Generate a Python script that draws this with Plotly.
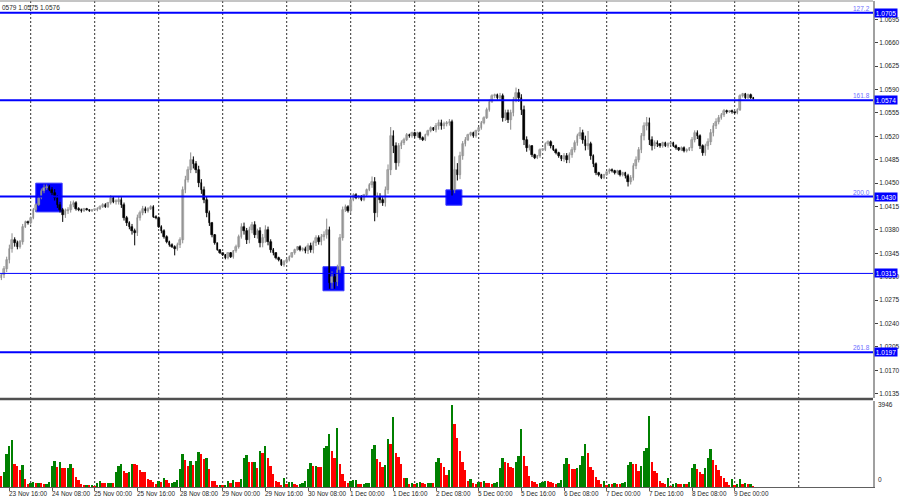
import plotly.graph_objects as go

# ---------------- data (EURUSD H1) ----------------
days = ['23 Nov', '24 Nov', '25 Nov', '28 Nov', '29 Nov', '30 Nov', '1 Dec',
        '2 Dec', '5 Dec', '6 Dec', '7 Dec', '8 Dec', '9 Dec']
first_bar = 13          # trading-hour index of first bar (23 Nov 13:00)
first_open = 1.0308

close_23 = [1.0312, 1.0322, 1.0335, 1.0352, 1.0365, 1.0360, 1.0355, 1.0362, 1.0385, 1.0392, 1.0390]
close_24 = [1.0398, 1.0410, 1.0418, 1.0428, 1.0438, 1.0443, 1.0445, 1.0440, 1.0436, 1.0428, 1.0418, 1.0410,
            1.0402, 1.0408, 1.0410, 1.0418, 1.0420, 1.0412, 1.0410, 1.0408, 1.0412, 1.0410, 1.0408, 1.0410]
close_25 = [1.0410, 1.0412, 1.0415, 1.0418, 1.0415, 1.0420, 1.0428, 1.0422, 1.0422, 1.0425, 1.0418, 1.0398,
            1.0390, 1.0385, 1.0378, 1.0375, 1.0398, 1.0405, 1.0412, 1.0408, 1.0412, 1.0415, 1.0400, 1.0398]
close_28 = [1.0385, 1.0378, 1.0370, 1.0362, 1.0358, 1.0355, 1.0352, 1.0358, 1.0365, 1.0440, 1.0455, 1.0470,
            1.0485, 1.0478, 1.0470, 1.0450, 1.0440, 1.0425, 1.0405, 1.0390, 1.0372, 1.0360, 1.0350, 1.0345]
close_29 = [1.0342, 1.0338, 1.0345, 1.0340, 1.0348, 1.0355, 1.0370, 1.0385, 1.0378, 1.0365, 1.0380, 1.0388,
            1.0372, 1.0378, 1.0360, 1.0368, 1.0380, 1.0362, 1.0350, 1.0345, 1.0338, 1.0335, 1.0328, 1.0332]
close_30 = [1.0335, 1.0340, 1.0345, 1.0350, 1.0355, 1.0350, 1.0352, 1.0348, 1.0356, 1.0350, 1.0360, 1.0368,
            1.0362, 1.0370, 1.0372, 1.0380, 1.0300, 1.0310, 1.0302, 1.0320, 1.0368, 1.0410, 1.0415, 1.0408]
close_01 = [1.0425, 1.0432, 1.0428, 1.0430, 1.0425, 1.0432, 1.0440, 1.0448, 1.0452, 1.0405, 1.0430, 1.0425,
            1.0420, 1.0440, 1.0470, 1.0520, 1.0505, 1.0480, 1.0505, 1.0510, 1.0515, 1.0522, 1.0520, 1.0525]
close_02 = [1.0520, 1.0525, 1.0518, 1.0515, 1.0522, 1.0528, 1.0532, 1.0530, 1.0535, 1.0540, 1.0535, 1.0538,
            1.0540, 1.0542, 1.0440, 1.0470, 1.0462, 1.0490, 1.0508, 1.0515, 1.0522, 1.0525, 1.0520, 1.0528]
close_05 = [1.0532, 1.0540, 1.0548, 1.0560, 1.0572, 1.0580, 1.0582, 1.0578, 1.0580, 1.0548, 1.0555, 1.0545,
            1.0555, 1.0575, 1.0585, 1.0578, 1.0560, 1.0515, 1.0502, 1.0505, 1.0492, 1.0488, 1.0490, 1.0500]
close_06 = [1.0500, 1.0508, 1.0512, 1.0505, 1.0500, 1.0495, 1.0490, 1.0486, 1.0490, 1.0485, 1.0492, 1.0500,
            1.0510, 1.0520, 1.0525, 1.0515, 1.0505, 1.0508, 1.0490, 1.0478, 1.0465, 1.0462, 1.0458, 1.0462]
close_07 = [1.0466, 1.0470, 1.0468, 1.0465, 1.0468, 1.0462, 1.0465, 1.0460, 1.0452, 1.0458, 1.0475, 1.0485,
            1.0500, 1.0520, 1.0535, 1.0540, 1.0515, 1.0505, 1.0510, 1.0508, 1.0505, 1.0510, 1.0506, 1.0508]
close_08 = [1.0510, 1.0506, 1.0502, 1.0500, 1.0503, 1.0498, 1.0500, 1.0502, 1.0515, 1.0525, 1.0520, 1.0505,
            1.0495, 1.0505, 1.0512, 1.0525, 1.0535, 1.0542, 1.0548, 1.0552, 1.0558, 1.0556, 1.0558, 1.0556]
close_09 = [1.0555, 1.0560, 1.0580, 1.0583, 1.0578, 1.0582, 1.0578, 1.0576]

# upper / lower wick lengths in pips
wu_23 = [3, 4, 5, 6, 10, 4, 4, 3, 4, 2, 2]
wl_23 = [3, 4, 5, 5, 6, 5, 4, 3, 4, 2, 2]
wu_24 = [2, 3, 2, 3, 4, 5, 3, 2, 4, 5, 4, 4, 3, 4, 4, 5, 4, 3, 2, 2, 1, 1, 1, 1]
wl_24 = [2, 2, 3, 2, 2, 3, 3, 2, 4, 4, 5, 4, 10, 4, 4, 4, 4, 3, 2, 2, 1, 1, 1, 1]
wu_25 = [1, 2, 2, 2, 2, 2, 4, 2, 4, 5, 4, 3, 3, 3, 4, 4, 5, 4, 4, 3, 2, 2, 2, 2]
wl_25 = [1, 2, 2, 2, 2, 2, 2, 2, 4, 4, 5, 4, 4, 4, 5, 18, 4, 4, 3, 3, 2, 2, 2, 2]
wu_28 = [2, 2, 3, 2, 2, 2, 2, 3, 4, 5, 6, 5, 11, 5, 5, 6, 6, 5, 5, 4, 2, 2, 1, 1]
wl_28 = [2, 3, 3, 2, 3, 2, 10, 3, 5, 5, 5, 4, 5, 6, 5, 6, 6, 5, 6, 4, 3, 2, 1, 1]
wu_29 = [1, 2, 2, 2, 2, 3, 3, 5, 6, 5, 5, 4, 5, 4, 6, 6, 7, 5, 4, 3, 2, 2, 1, 3]
wl_29 = [1, 2, 2, 2, 3, 2, 3, 3, 5, 6, 5, 5, 4, 5, 6, 6, 7, 5, 4, 3, 2, 2, 2, 3]
wu_30 = [2, 2, 2, 2, 1, 2, 2, 3, 4, 5, 4, 4, 4, 4, 6, 17, 5, 8, 5, 8, 6, 5, 3, 2]
wl_30 = [2, 2, 2, 2, 1, 2, 2, 3, 4, 4, 5, 4, 4, 5, 6, 5, 8, 8, 10, 6, 5, 4, 3, 2]
wu_01 = [2, 3, 3, 2, 2, 2, 2, 2, 8, 7, 6, 5, 4, 5, 8, 14, 9, 6, 5, 4, 3, 3, 2, 2]
wl_01 = [3, 2, 2, 2, 2, 2, 2, 2, 5, 12, 6, 5, 4, 5, 6, 8, 10, 10, 5, 4, 3, 2, 2, 2]
wu_02 = [2, 2, 2, 2, 2, 2, 3, 2, 5, 5, 5, 4, 3, 4, 3, 20, 10, 7, 5, 4, 2, 2, 2, 2]
wl_02 = [2, 2, 3, 2, 2, 2, 2, 2, 4, 5, 5, 4, 3, 4, 10, 5, 8, 6, 5, 3, 2, 2, 2, 2]
wu_05 = [2, 3, 2, 3, 3, 3, 2, 2, 5, 4, 5, 5, 5, 4, 8, 6, 5, 6, 5, 3, 2, 2, 2, 2]
wl_05 = [2, 2, 2, 2, 3, 2, 3, 3, 4, 6, 5, 5, 15, 5, 4, 6, 8, 8, 5, 3, 3, 2, 2, 2]
wu_06 = [2, 3, 2, 2, 2, 2, 2, 2, 5, 5, 4, 4, 4, 4, 9, 5, 6, 20, 4, 3, 3, 2, 2, 2]
wl_06 = [2, 2, 2, 3, 2, 2, 2, 3, 4, 5, 5, 4, 4, 4, 4, 6, 6, 5, 5, 4, 3, 2, 2, 2]
wu_07 = [1, 2, 2, 2, 2, 2, 2, 2, 4, 4, 5, 5, 4, 5, 6, 9, 8, 5, 4, 4, 2, 2, 2, 3]
wl_07 = [1, 2, 2, 2, 2, 2, 2, 3, 7, 4, 4, 4, 4, 5, 6, 6, 8, 6, 4, 4, 2, 2, 2, 3]
wu_08 = [1, 2, 2, 2, 2, 2, 2, 2, 4, 4, 4, 3, 3, 4, 5, 6, 5, 5, 4, 3, 3, 2, 1, 2]
wl_08 = [1, 2, 2, 2, 2, 2, 2, 2, 4, 4, 4, 4, 4, 4, 5, 5, 5, 4, 4, 3, 3, 2, 1, 2]
wu_09 = [1, 2, 3, 2, 2, 2, 2, 1]
wl_09 = [1, 2, 2, 2, 2, 2, 2, 1]

# tick volumes
vol_23 = [530, 720, 1590, 1980, 2270, 1110, 1010, 820, 1060, 390, 150]
vol_24 = [200, 240, 190, 210, 200, 150, 160, 250, 1010, 1260, 970, 1200, 920, 910, 930, 1110, 900, 480, 340, 150, 100, 110, 90, 100]
vol_25 = [60, 190, 290, 200, 180, 190, 200, 180, 720, 1010, 1110, 770, 680, 720, 1120, 1100, 1060, 820, 730, 720, 390, 340, 240, 150]
vol_28 = [290, 240, 430, 340, 190, 200, 240, 330, 870, 1590, 1300, 1010, 1250, 1060, 1260, 1690, 1580, 1350, 1400, 870, 290, 280, 100, 110]
vol_29 = [100, 110, 290, 200, 340, 240, 230, 390, 1400, 1540, 1200, 1190, 1210, 920, 1740, 1640, 1980, 1400, 1010, 630, 290, 240, 100, 430]
vol_30 = [150, 240, 250, 150, 100, 140, 190, 290, 870, 1160, 1010, 1020, 970, 960, 1880, 1980, 2560, 1740, 1400, 2850, 1110, 630, 290, 190]
vol_01 = [290, 340, 350, 150, 140, 150, 190, 200, 1840, 2030, 1350, 1210, 970, 1060, 2320, 2080, 3340, 1640, 1450, 1110, 430, 440, 150, 190]
vol_02 = [150, 190, 240, 200, 150, 190, 200, 190, 1210, 1400, 1160, 970, 580, 820, 3946, 3000, 2370, 1740, 1210, 820, 290, 390, 190, 150]
vol_05 = [240, 240, 290, 190, 190, 150, 190, 240, 920, 1400, 1210, 1160, 970, 920, 1210, 1500, 2800, 1500, 1010, 530, 290, 240, 150, 190]
vol_06 = [240, 290, 290, 240, 190, 150, 190, 340, 1110, 1400, 1100, 870, 860, 920, 1060, 1500, 2080, 1640, 970, 820, 480, 340, 150, 290]
vol_07 = [100, 150, 150, 190, 150, 140, 190, 240, 1060, 1210, 1110, 1100, 770, 1010, 1740, 1880, 3390, 1210, 770, 680, 290, 190, 150, 430]
vol_08 = [60, 150, 190, 150, 140, 150, 150, 240, 920, 1110, 870, 720, 630, 920, 1400, 1840, 1300, 1060, 820, 530, 430, 240, 100, 390]
vol_09 = [100, 150, 390, 150, 190, 140, 150, 60]

price_ticks = [1.0135, 1.0170, 1.0205, 1.0240, 1.0275, 1.0310, 1.0345, 1.0380, 1.0415,
               1.0450, 1.0485, 1.0520, 1.0555, 1.0590, 1.0625, 1.0660, 1.0695]
fib_levels = [1.0705, 1.0574, 1.0430, 1.0315, 1.0197]
fib_names = ['127.2', '161.8', '200.0', '', '261.8']
zone_t0 = [25.9, 133.6, 179.7]
zone_t1 = [35.8, 141.5, 185.7]
zone_lo = [1.0407, 1.0289, 1.0417]
zone_hi = [1.0450, 1.0325, 1.0440]
vol_max_label = 3946
header_text = '0579 1.0575 1.0576'

# ---------------- assemble ----------------
PIP = 0.0001
close = (close_23 + close_24 + close_25 + close_28 + close_29 + close_30 + close_01 +
         close_02 + close_05 + close_06 + close_07 + close_08 + close_09)
wu = wu_23 + wu_24 + wu_25 + wu_28 + wu_29 + wu_30 + wu_01 + wu_02 + wu_05 + wu_06 + wu_07 + wu_08 + wu_09
wl = wl_23 + wl_24 + wl_25 + wl_28 + wl_29 + wl_30 + wl_01 + wl_02 + wl_05 + wl_06 + wl_07 + wl_08 + wl_09
vol = (vol_23 + vol_24 + vol_25 + vol_28 + vol_29 + vol_30 + vol_01 + vol_02 + vol_05 +
       vol_06 + vol_07 + vol_08 + vol_09)
n = len(close)
assert len(wu) == n and len(wl) == n and len(vol) == n
t = list(range(first_bar, first_bar + n))
opn = [first_open] + close[:-1]
hi = [max(o, c) + u * PIP for o, c, u in zip(opn, close, wu)]
lo = [min(o, c) - d * PIP for o, c, d in zip(opn, close, wl)]
bull = [c >= o for o, c in zip(opn, close)]

UP_LINE, UP_FILL = '#8c8c8c', '#c8c8c8'
DN_LINE, DN_FILL = '#000000', '#000000'

fig = go.Figure()
for flag, col in ((True, UP_LINE), (False, DN_LINE)):
    xs, ys = [], []
    for ti, h, l, b in zip(t, hi, lo, bull):
        if b == flag:
            xs += [ti, ti, None]
            ys += [l, h, None]
    fig.add_trace(go.Scatter(x=xs, y=ys, mode='lines', line=dict(color=col, width=1),
                             hoverinfo='skip', xaxis='x', yaxis='y'))

base = [min(o, c) for o, c in zip(opn, close)]
height = [max(abs(c - o), 0.00012) for o, c in zip(opn, close)]
fig.add_trace(go.Bar(x=t, y=height, base=base, width=0.62,
                     marker=dict(color=[UP_FILL if b else DN_FILL for b in bull],
                                 line=dict(color=[UP_LINE if b else DN_LINE for b in bull], width=0.6)),
                     xaxis='x', yaxis='y', hoverinfo='skip'))

vcol = ['#ff0000'] + ['#008000' if vol[i] > vol[i - 1] else '#ff0000' for i in range(1, n)]
fig.add_trace(go.Bar(x=t, y=vol, width=0.72, marker=dict(color=vcol, line=dict(width=0)),
                     xaxis='x', yaxis='y2', hoverinfo='skip'))

# ---------------- layout ----------------
label_ts = list(range(16, t[-1] + 1, 16))
grid_ts = list(range(24, 313, 24))

shapes = []
for g in grid_ts:
    shapes.append(dict(type='line', xref='x', yref='paper', x0=g, x1=g, y0=0, y1=1, layer='below',
                       line=dict(color='#303030', width=1, dash='2px,2px')))
for a, b, l, h in zip(zone_t0, zone_t1, zone_lo, zone_hi):
    shapes.append(dict(type='rect', xref='x', yref='y', x0=a, x1=b, y0=l, y1=h, layer='below',
                       fillcolor='#0000ff', line=dict(color='#3a3aff', width=1)))
for lv, nm in zip(fib_levels, fib_names):
    shapes.append(dict(type='line', xref='paper', yref='y', x0=0, x1=1, y0=lv, y1=lv,
                       line=dict(color='#0000ff', width=2 if nm else 1)))
shapes.append(dict(type='line', xref='paper', yref='paper', x0=0, x1=1, y0=0.1810, y1=0.1810,
                   line=dict(color='#505050', width=2.5)))
shapes.append(dict(type='line', xref='paper', yref='paper', x0=0, x1=1, y0=1, y1=1,
                   line=dict(color='#8a8a8a', width=1)))

ann = []
for ti in label_ts:
    ann.append(dict(xref='x', yref='paper', x=ti, y=0, xanchor='left', yanchor='top',
                    xshift=-2.5, yshift=-1, text=f'{days[ti // 24]} {ti % 24:02d}:00',
                    showarrow=False, font=dict(size=6.4, color='#1e1e1e')))
for lv, nm in zip(fib_levels, fib_names):
    if nm:
        ann.append(dict(xref='paper', yref='y', x=1, y=lv, xanchor='right', yanchor='bottom',
                        xshift=-1, yshift=-1, text=nm, showarrow=False,
                        font=dict(size=6.5, color='#6f6fff')))
    ann.append(dict(xref='paper', yref='y', x=1, y=lv, xanchor='left', yanchor='middle',
                    xshift=1, text=f'{lv:.4f}', showarrow=False, bgcolor='#0000ff',
                    width=22, height=8, borderpad=0, font=dict(size=6.5, color='#ffffff')))
ann.append(dict(xref='paper', yref='y2', x=1, y=vol_max_label, xanchor='left', yanchor='middle',
                xshift=3, text=str(vol_max_label), showarrow=False, font=dict(size=6.5, color='#1e1e1e')))
ann.append(dict(xref='paper', yref='y2', x=1, y=0, xanchor='left', yanchor='bottom',
                xshift=3, yshift=2, text='0', showarrow=False, font=dict(size=6.5, color='#1e1e1e')))
ann.append(dict(xref='paper', yref='paper', x=0, y=1, xanchor='left', yanchor='top',
                yshift=-1, text=header_text, showarrow=False, font=dict(size=6.5, color='#1e1e1e')))

fig.update_layout(
    width=900, height=500, margin=dict(l=0, r=27, t=1, b=13),
    paper_bgcolor='white', plot_bgcolor='white', showlegend=False,
    barmode='overlay', bargap=0,
    font=dict(family='Liberation Sans', size=7, color='#1e1e1e'),
    xaxis=dict(range=[12.49, 339.86], anchor='y2', showgrid=False, zeroline=False,
               showline=True, linecolor='#606060', linewidth=1, ticks='outside', ticklen=3,
               tickwidth=1, tickcolor='#606060', tickvals=label_ts, showticklabels=False,
               fixedrange=True),
    yaxis=dict(domain=[0.1831, 1], range=[1.01286, 1.07225], side='right', anchor='x',
               tickvals=price_ticks, ticktext=[f'{p:.4f}' for p in price_ticks],
               ticks='outside', ticklen=3, tickwidth=1, tickcolor='#404040',
               showline=True, linecolor='#a0a0a0', linewidth=2, showgrid=False, zeroline=False,
               tickfont=dict(size=6.5, color='#1e1e1e'), fixedrange=True),
    yaxis2=dict(domain=[0, 0.177], range=[0, 4123], side='right', anchor='x',
                showticklabels=False, ticks='', showline=True, linecolor='#a0a0a0', linewidth=2,
                showgrid=False, zeroline=False, fixedrange=True),
    shapes=shapes, annotations=ann,
)

fig.write_html('out.html', config={'displayModeBar': False},
               post_script="document.body.style.margin='0';document.body.style.padding='0';")
